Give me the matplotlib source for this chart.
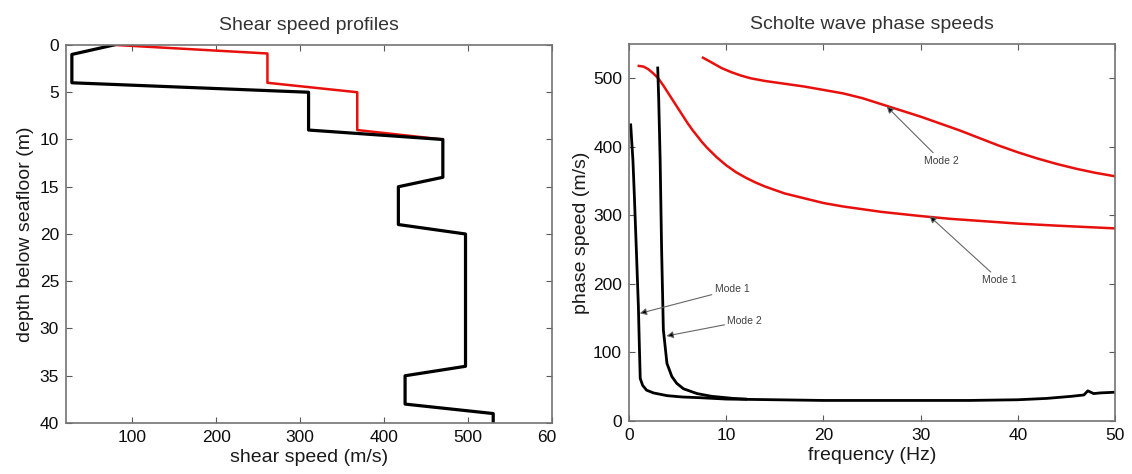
import matplotlib
matplotlib.use('Agg')
import matplotlib.pyplot as plt
from matplotlib.transforms import Bbox

plt.rcParams['font.family'] = ['Liberation Sans', 'DejaVu Sans']

# shear speed profiles (speed m/s, depth m)
black_speed = [78, 28, 28, 310, 310, 470, 470, 417, 417, 497, 497, 425, 425, 530, 530]
black_depth = [0, 1, 4, 5, 9, 10, 14, 15, 19, 20, 34, 35, 38, 39, 40]
red_speed = [80, 261, 261, 368, 368, 470]
red_depth = [0, 0.9, 4, 5, 9, 10]

# Scholte wave phase speeds, red curves
red1_f = [1, 1.5, 2, 2.5, 3, 3.5, 4, 4.5, 5, 5.5, 6, 6.5, 7, 7.5, 8, 9, 10, 11, 12, 13, 14, 15,
          16, 18, 20, 22, 24, 26, 28, 30, 33, 36, 40, 44, 47, 50]
red1_v = [518, 517, 513, 507, 500, 490, 479, 468, 457, 446, 435, 425, 416, 407, 399, 385, 373, 363,
          355, 348, 342, 337, 332, 325, 318, 313, 309, 305, 302, 299, 295, 292, 288, 285, 283, 281]
red2_f = [7.6, 8.5, 9.5, 10.5, 11.5, 12.5, 14, 16, 18, 20, 22, 24, 26, 28, 30, 32, 34, 36, 38, 40,
          42, 44, 46, 48, 50]
red2_v = [530, 523, 515, 509, 504, 500, 496, 492, 488, 483, 478, 471, 462, 453, 444, 434, 424, 413,
          402, 392, 383, 375, 368, 362, 357]

# black curves
blk1_f = [0.17, 0.4, 0.55, 0.75, 0.96, 1.06, 1.15, 1.4, 1.8, 2.5, 3.9, 5.5, 7.3, 10, 15, 20, 25, 30,
          35, 40, 43, 45.5, 46.8, 47.2, 47.8, 48.5, 50]
blk1_v = [432, 380, 327, 250, 167, 110, 62, 52, 45, 41, 37, 35, 34, 32, 31, 30, 30, 30, 30, 31, 33,
          36, 38, 44, 40, 41, 42]
blk2_f = [2.95, 3.05, 3.2, 3.35, 3.53, 3.9, 4.4, 4.9, 5.6, 7.0, 8.5, 10.7, 12]
blk2_v = [515, 470, 380, 250, 133, 84, 65, 55, 47, 40, 36, 33, 32]

# annotations: (label, tip_f, tip_v, text_f, text_v)
notes = [
    ('Mode 1', 1.1, 157, 8.8, 192),
    ('Mode 2', 3.85, 124, 10.1, 146),
    ('Mode 2', 26.5, 459, 30.3, 380),
    ('Mode 1', 30.9, 299, 36.3, 206),
]

fig = plt.figure(figsize=(11.32, 4.74), dpi=100)
ax1 = fig.add_axes([0.0583, 0.1076, 0.4293, 0.7975])
ax2 = fig.add_axes([0.5557, 0.1118, 0.4293, 0.7954])

for ax in (ax1, ax2):
    ax.tick_params(direction='in', top=True, right=True, length=4, width=0.8,
                   color='0.35', labelsize=12.5, pad=5, labelcolor='0.05')
    for sp in ax.spines.values():
        sp.set_color('0.45')
        sp.set_linewidth(1.2)

ax1.plot(red_speed, red_depth, color='#e8100c', lw=1.8)
ax1.plot(black_speed, black_depth, color='k', lw=2.3)
ax1.set_xlim(21, 600)
ax1.set_ylim(40, 0)
ax1.set_xticks([100, 200, 300, 400, 500, 600])
ax1.set_yticks(range(0, 41, 5))
ax1.set_xlabel('shear speed (m/s)', fontsize=14, color='0.1', labelpad=3)
ax1.set_ylabel('depth below seafloor (m)', fontsize=14, color='0.1', labelpad=4)
ax1.set_title('Shear speed profiles', fontsize=14, color='0.2', pad=11)

ax2.plot(red1_f, red1_v, color='#e8100c', lw=1.8)
ax2.plot(red2_f, red2_v, color='#e8100c', lw=1.8)
ax2.plot(blk1_f, blk1_v, color='k', lw=2.0)
ax2.plot(blk2_f, blk2_v, color='k', lw=2.0)
ax2.set_xlim(0, 50)
ax2.set_ylim(0, 550)
ax2.set_xticks(range(0, 51, 10))
ax2.set_yticks(range(0, 501, 100))
ax2.set_xlabel('frequency (Hz)', fontsize=14, color='0.1', labelpad=3)
ax2.set_ylabel('phase speed (m/s)', fontsize=14, color='0.1', labelpad=2)
ax2.set_title('Scholte wave phase speeds', fontsize=14, color='0.2', pad=11)

for label, tf, tv, xf, xv in notes:
    ax2.annotate(label, xy=(tf, tv), xytext=(xf, xv), fontsize=7.5, color='0.25',
                 va='center', ha='left',
                 arrowprops=dict(arrowstyle='-|>', ec='0.4', fc='k', lw=0.8,
                                 mutation_scale=10, shrinkA=0, shrinkB=0))

# the last tick label of the left panel is cut off in the reference
fig.canvas.draw()
for t in ax1.get_xticklabels():
    if t.get_text() == '600':
        t.set_clip_box(Bbox.from_extents(0, 0, 556, 474))
        t.set_clip_on(True)

fig.savefig('out.png', dpi=100)
